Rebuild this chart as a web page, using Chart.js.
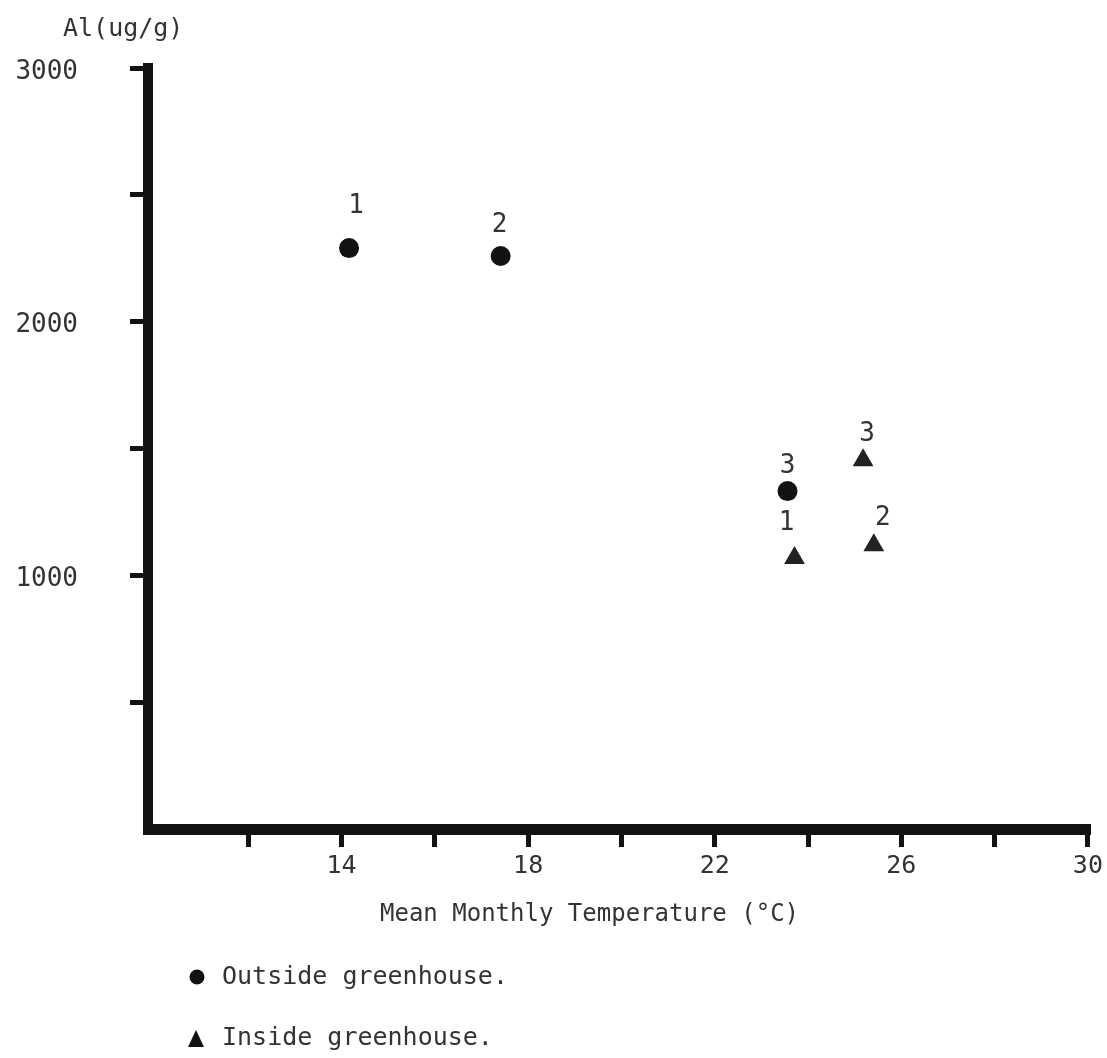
<!DOCTYPE html>
<html>
<head>
<meta charset="utf-8">
<script src="https://cdn.jsdelivr.net/npm/chart.js@4.4.1/dist/chart.umd.min.js"></script>
<style>
  html, body { margin: 0; padding: 0; background: #fff; }
  #wrap { width: 1107px; height: 1058px; }
</style>
</head>
<body>
<div id="wrap"><canvas id="chart" width="1107" height="1058"></canvas></div>
<script>
// Al content vs mean monthly temperature, sites numbered 1-3
const outsideTemp = [14.16, 17.41, 23.56];
const outsideAl = [2290, 2259, 1332];
const outsideIds = ["1", "2", "3"];

const insideTemp = [23.71, 25.41, 25.18];
const insideAl = [1068, 1119, 1454];
const insideIds = ["1", "2", "3"];

const xTicks = [12, 14, 16, 18, 20, 22, 24, 26, 28, 30];
const xLabelled = [14, 18, 22, 26, 30];
const yTicks = [500, 1000, 1500, 2000, 2500, 3000];
const yLabelled = [1000, 2000, 3000];

// where each number sits relative to its marker
const outsideLabelShift = [[7, -42], [-1, -31], [0, -25]];
const insideLabelShift = [[-8, -35], [9, -27], [4, -26]];

const FONT = '"DejaVu Sans Mono", "Liberation Mono", monospace';
const INK = '#121212';
const TEXT = '#333';

const pointNumbers = {
  id: 'pointNumbers',
  afterDatasetsDraw(chart) {
    const ctx = chart.ctx;
    ctx.save();
    ctx.font = '26px ' + FONT;
    ctx.fillStyle = TEXT;
    ctx.textAlign = 'center';
    ctx.textBaseline = 'middle';
    chart.data.datasets.forEach((ds, i) => {
      const meta = chart.getDatasetMeta(i);
      meta.data.forEach((pt, j) => {
        const [dx, dy] = ds.labelShift[j];
        ctx.fillText(ds.ids[j], pt.x + dx, pt.y + dy);
      });
    });
    ctx.restore();
  }
};

const captions = {
  id: 'captions',
  afterDraw(chart) {
    const ctx = chart.ctx;
    const area = chart.chartArea;
    ctx.save();
    ctx.fillStyle = TEXT;
    ctx.textBaseline = 'middle';
    ctx.textAlign = 'left';

    ctx.font = '25px ' + FONT;
    ctx.fillText('Al(ug/g)', 63, 29);

    ctx.font = '24px ' + FONT;
    ctx.fillText('Mean Monthly Temperature (\u00B0C)', 380, area.bottom + 86);

    // key
    ctx.font = '25px ' + FONT;
    ctx.fillStyle = INK;
    ctx.beginPath();
    ctx.arc(197, area.bottom + 148, 7.5, 0, Math.PI * 2);
    ctx.fill();
    ctx.beginPath();
    const tx = 196, ty = area.bottom + 210;
    ctx.moveTo(tx, ty - 9);
    ctx.lineTo(tx + 8, ty + 8);
    ctx.lineTo(tx - 8, ty + 8);
    ctx.closePath();
    ctx.fill();
    ctx.fillStyle = TEXT;
    ctx.fillText('Outside greenhouse.', 222, area.bottom + 148);
    ctx.fillText('Inside greenhouse.', 222, area.bottom + 209);
    ctx.restore();
  }
};

new Chart(document.getElementById('chart'), {
  type: 'scatter',
  data: {
    datasets: [
      {
        label: 'Outside greenhouse.',
        data: outsideTemp.map((t, i) => ({ x: t, y: outsideAl[i] })),
        ids: outsideIds,
        labelShift: outsideLabelShift,
        pointStyle: 'circle',
        pointRadius: 10,
        backgroundColor: INK,
        borderWidth: 0
      },
      {
        label: 'Inside greenhouse.',
        data: insideTemp.map((t, i) => ({ x: t, y: insideAl[i] })),
        ids: insideIds,
        labelShift: insideLabelShift,
        pointStyle: 'triangle',
        pointRadius: 12,
        backgroundColor: '#222',
        borderWidth: 0
      }
    ]
  },
  options: {
    responsive: false,
    animation: false,
    events: [],
    layout: { padding: { left: 0, top: 68, right: 13, bottom: 0 } },
    plugins: { legend: { display: false }, tooltip: { enabled: false } },
    scales: {
      x: {
        type: 'linear',
        min: 9.85,
        max: 30.05,
        afterBuildTicks: s => { s.ticks = xTicks.map(v => ({ value: v })); },
        afterFit: s => { s.height = 1058 - 829; },
        ticks: {
          autoSkip: false,
          maxRotation: 0,
          padding: 4,
          color: TEXT,
          font: { family: FONT, size: 25 },
          callback: v => xLabelled.includes(v) ? String(v) : ''
        },
        grid: { drawOnChartArea: false, drawTicks: true, tickLength: 18, tickWidth: 5, tickColor: INK },
        border: { display: true, width: 11, color: INK }
      },
      y: {
        min: 0,
        max: 3000,
        afterBuildTicks: s => { s.ticks = yTicks.map(v => ({ value: v })); },
        afterFit: s => { s.width = 148; },
        ticks: {
          padding: 52,
          labelOffset: 4,
          color: TEXT,
          font: { family: FONT, size: 26 },
          callback: v => yLabelled.includes(v) ? String(v) : ''
        },
        grid: { drawOnChartArea: false, drawTicks: true, tickLength: 18, tickWidth: 5, tickColor: INK },
        border: { display: true, width: 10, color: INK }
      }
    }
  },
  plugins: [pointNumbers, captions]
});
</script>
</body>
</html>
